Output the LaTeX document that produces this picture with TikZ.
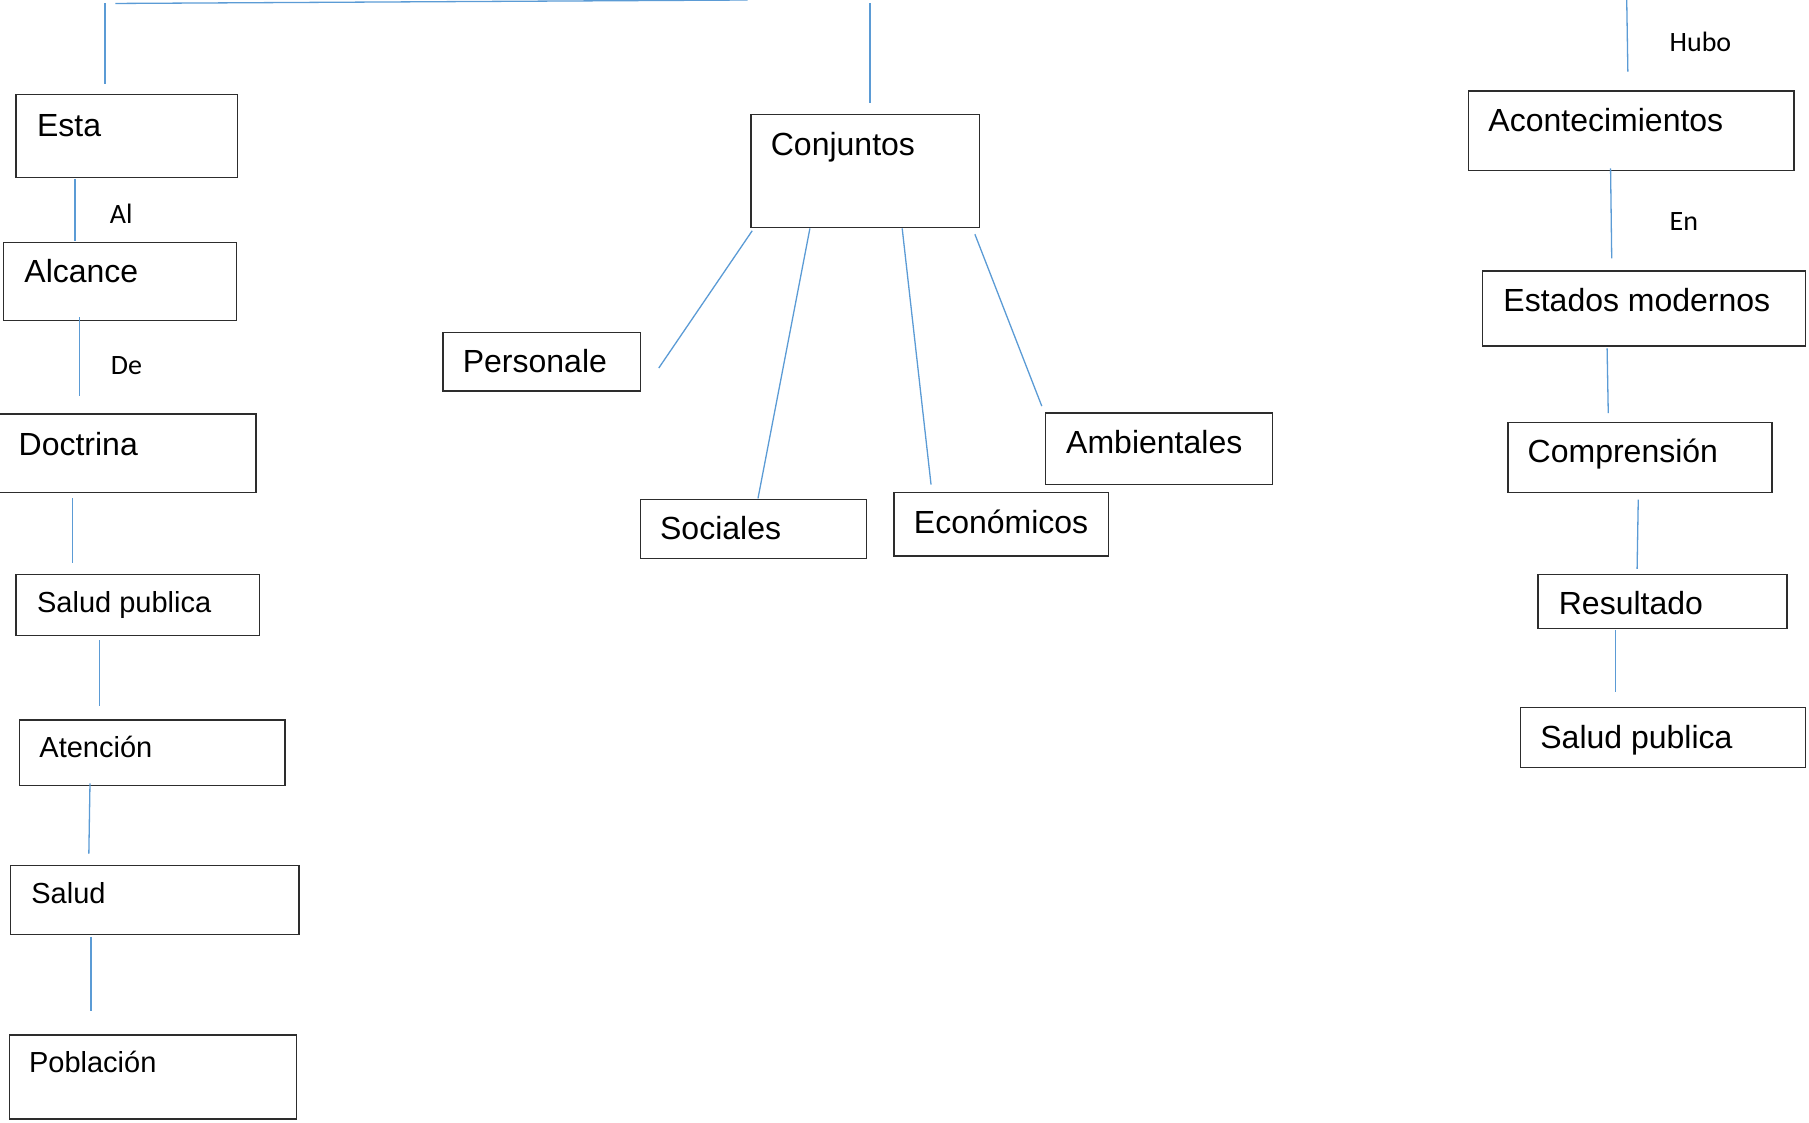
\documentclass[tikz,border=0pt]{standalone}
\usepackage{fontspec}
\setmainfont{Liberation Sans}
\newfontfamily\lblfont{Carlito}
\usetikzlibrary{fit}
\definecolor{conn}{RGB}{91,155,213}
\definecolor{edgec}{RGB}{45,45,45}
\tikzset{
 boxsty/.style={draw=edgec, line width=1.4pt, inner sep=0pt, rectangle},
 txt/.style={anchor=base west, inner sep=0pt, font=\fontsize{32}{38}\selectfont},
 txts/.style={anchor=base west, inner sep=0pt, font=\fontsize{29}{35}\selectfont},
 lbl/.style={anchor=base west, inner sep=0pt, font=\lblfont\fontsize{28}{34}\selectfont},
 conline/.style={draw=conn, line width=1.3pt},
}
\newcommand\mybox[5]{%
 \node[boxsty, fit={(#2,#3) (#4,#5)}] (#1) {};}
\begin{document}
\begin{tikzpicture}[x=1.1537pt, y=-1.1537pt]
\useasboundingbox (0,0) rectangle (1568,973);
% ---------- left column ----------
\mybox{esta}{14}{82}{206}{154}
\node[txt] (esta-t) at (32,118) {Esta};
\mybox{alcance}{3}{210}{205}{278}
\node[txt] (alcance-t) at (21,245) {Alcance};
\mybox{doctrina}{-3}{359}{222}{427}
\node[txt] (doctrina-t) at (16,395) {Doctrina};
\mybox{saludpubl}{14}{498}{225}{551}
\node[txts] (saludpubl-t) at (32,531) {Salud publica};
\mybox{atencion}{17}{624}{247}{681}
\node[txts] (atencion-t) at (34,657) {Atención};
\mybox{salud}{9}{750}{259}{810}
\node[txts] (salud-t) at (27,783) {Salud};
\mybox{poblacion}{8}{897}{257}{970}
\node[txts] (poblacion-t) at (25,930) {Población};
\node[lbl] (al) at (95,194) {Al};
\node[lbl] (de) at (96,325) {De};
% ---------- middle ----------
\mybox{conjuntos}{651}{99}{849}{197}
\node[txt] (conjuntos-t) at (668,135) {Conjuntos};
\mybox{personale}{384}{288}{555}{339}
\node[txt] (personale-t) at (401,323) {Personale};
\mybox{sociales}{555}{433}{751}{484}
\node[txt] (sociales-t) at (572,468) {Sociales};
\mybox{economicos}{775}{427}{961}{482}
\node[txt] (economicos-t) at (792,462) {Económicos};
\mybox{ambientales}{906}{358}{1103}{420}
\node[txt] (ambientales-t) at (924,393) {Ambientales};
% ---------- right column ----------
\mybox{aconte}{1273}{79}{1555}{148}
\node[txt] (aconte-t) at (1290,114) {Acontecimientos};
\mybox{estados}{1285}{235}{1565}{300}
\node[txt] (estados-t) at (1303,270) {Estados modernos};
\mybox{compren}{1307}{366}{1536}{427}
\node[txt] (compren-t) at (1324,401) {Comprensión};
\mybox{resultado}{1333}{498}{1549}{545}
\node[txt] (resultado-t) at (1351,533) {Resultado};
\mybox{saludpubr}{1318}{613}{1565}{665}
\node[txt] (saludpubr-t) at (1335,649) {Salud publica};
\node[lbl] (hubo) at (1447,45) {Hubo};
\node[lbl] (en) at (1447,200) {En};
% ---------- connectors ----------
\coordinate (t1) at (100,3); \coordinate (t2) at (648,0);
\coordinate (a1) at (91,3);  \coordinate (a2) at (91,73);
\coordinate (b1) at (65,155); \coordinate (b2) at (65,209);
\coordinate (c1) at (69,275); \coordinate (c2) at (69,343);
\coordinate (d1) at (63,432); \coordinate (d2) at (63,488);
\coordinate (e1) at (86,555); \coordinate (e2) at (86,612);
\coordinate (f1) at (78,679); \coordinate (f2) at (77,740);
\coordinate (g1) at (79,812); \coordinate (g2) at (79,876);
\coordinate (m1) at (754,3);  \coordinate (m2) at (754,89);
\coordinate (p1) at (652,200); \coordinate (p2) at (571,319);
\coordinate (s1) at (702,198); \coordinate (s2) at (657,432);
\coordinate (k1) at (782,198); \coordinate (k2) at (807,420);
\coordinate (n1) at (845,203); \coordinate (n2) at (903,352);
\coordinate (r1) at (1410,0);  \coordinate (r2) at (1411,62);
\coordinate (u1) at (1396,146); \coordinate (u2) at (1397,224);
\coordinate (v1) at (1393,302); \coordinate (v2) at (1394,358);
\coordinate (w1) at (1420,433); \coordinate (w2) at (1419,493);
\coordinate (z1) at (1400,546); \coordinate (z2) at (1400,600);
\foreach \p/\q in {t1/t2,a1/a2,b1/b2,c1/c2,d1/d2,e1/e2,f1/f2,g1/g2,m1/m2,p1/p2,s1/s2,k1/k2,n1/n2,r1/r2,u1/u2,v1/v2,w1/w2,z1/z2}
  \draw[conline] (\p) -- (\q);
\end{tikzpicture}
\end{document}
